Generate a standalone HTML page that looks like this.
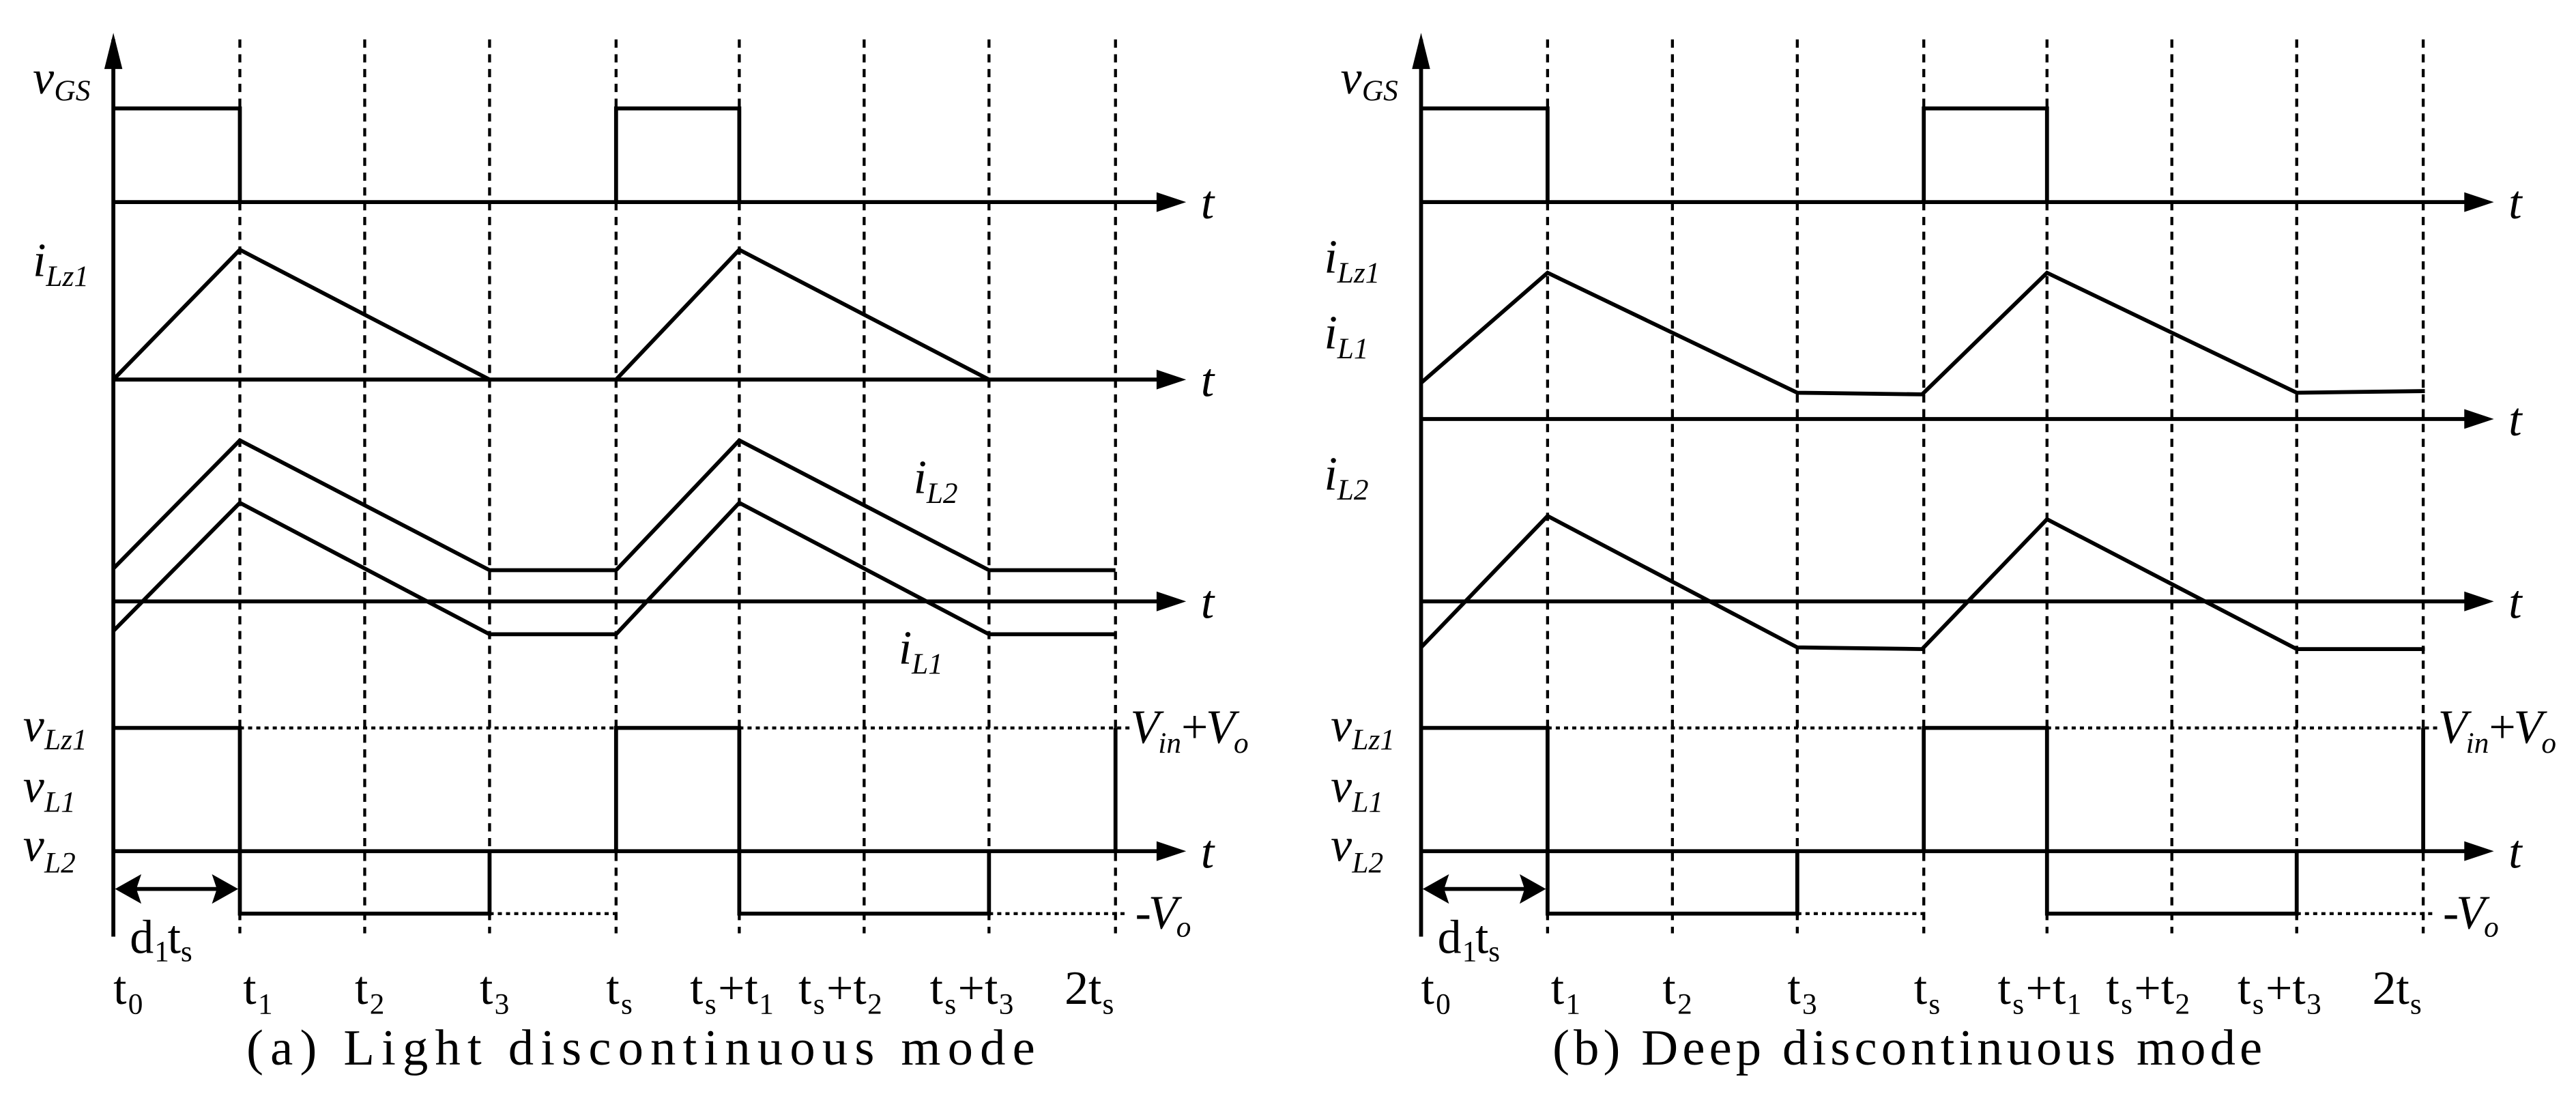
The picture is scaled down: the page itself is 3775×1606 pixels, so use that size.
<!DOCTYPE html>
<html><head><meta charset="utf-8"><style>
html,body{margin:0;padding:0;background:#fff;}
svg{display:block;}
.s{stroke:#000;stroke-width:2.4;fill:none;}
.d{stroke:#000;stroke-width:1.8;fill:none;stroke-dasharray:5,4;}
.p{stroke:#000;stroke-width:1.8;fill:none;stroke-dasharray:2.5,2.5;}
text{font-family:"Liberation Serif","Times New Roman",serif;fill:#000;}
.i{font-style:italic;font-size:29px;}
.sb{font-style:italic;font-size:18px;}
.t{font-size:29px;}
.ts{font-size:18px;}
.cap{font-family:"Liberation Serif",serif;font-size:31px;}
</style></head><body>
<svg width="3775" height="1606" viewBox="0 0 1568 667" preserveAspectRatio="none" xmlns="http://www.w3.org/2000/svg">
<defs>
<g id="common">
<line class="s" x1="69" y1="570" x2="69" y2="24"/>
<path d="M69,20L63.5,42L74.5,42z"/>
<g class="d">
<line x1="146" y1="24" x2="146" y2="568"/><line x1="222" y1="24" x2="222" y2="568"/>
<line x1="298" y1="24" x2="298" y2="568"/><line x1="375" y1="24" x2="375" y2="568"/>
<line x1="450" y1="24" x2="450" y2="568"/><line x1="526" y1="24" x2="526" y2="568"/>
<line x1="602" y1="24" x2="602" y2="568"/><line x1="679" y1="24" x2="679" y2="568"/>
</g>
<polyline class="s" points="69,66 146,66 146,123"/>
<polyline class="s" points="375,123 375,66 450,66 450,123"/>
<line class="s" x1="69" y1="123" x2="708" y2="123"/><path d="M722,123L704,117L704,129z"/>
<line class="s" x1="69" y1="518" x2="708" y2="518"/><path d="M722,518L704,512L704,524z"/>
<polyline class="s" points="69,443 146,443 146,556 298,556 298,518"/>
<polyline class="s" points="375,518 375,443 450,443 450,556 602,556 602,518"/>
<line class="s" x1="679" y1="443" x2="679" y2="518"/>
<line class="p" x1="146" y1="443" x2="375" y2="443"/>
<line class="p" x1="450" y1="443" x2="688" y2="443"/>
<line class="p" x1="298" y1="556" x2="375" y2="556"/>
<line class="p" x1="602" y1="556" x2="685" y2="556"/>
<line class="s" x1="80" y1="541" x2="135" y2="541"/>
<path d="M70,541L86,532L83,541L86,550z"/><path d="M145,541L129,532L132,541L129,550z"/>
<text class="i" x="731" y="133">t</text>
<text class="i" x="731" y="528">t</text>
<text class="i" x="20" y="57">v</text><text class="sb" x="33" y="61">GS</text>
<text class="i" x="14" y="451">v</text><text class="sb" x="27" y="456">Lz1</text>
<text class="i" x="14" y="488">v</text><text class="sb" x="27" y="494">L1</text>
<text class="i" x="14" y="524">v</text><text class="sb" x="27" y="531">L2</text>
<text class="i" x="688" y="452">V</text><text class="sb" x="705" y="458">in</text><text class="t" x="719" y="452">+</text><text class="i" x="734" y="452">V</text><text class="sb" x="751" y="458">o</text>
<text class="t" x="691" y="565">-</text><text class="i" x="699" y="565">V</text><text class="sb" x="716" y="570">o</text>
<text class="t" x="79" y="580">d</text><text class="ts" x="94" y="585">1</text><text class="t" x="102" y="580">t</text><text class="ts" x="110" y="585">s</text>
<text class="t" x="69" y="611">t</text><text class="ts" x="78" y="617">0</text>
<text class="t" x="148" y="611">t</text><text class="ts" x="157" y="617">1</text>
<text class="t" x="216" y="611">t</text><text class="ts" x="225" y="617">2</text>
<text class="t" x="292" y="611">t</text><text class="ts" x="301" y="617">3</text>
<text class="t" x="369" y="611">t</text><text class="ts" x="378" y="617">s</text>
<text class="t" x="420" y="611">t</text><text class="ts" x="429" y="617">s</text><text class="t" x="437" y="611">+t</text><text class="ts" x="462" y="617">1</text>
<text class="t" x="486" y="611">t</text><text class="ts" x="495" y="617">s</text><text class="t" x="503" y="611">+t</text><text class="ts" x="528" y="617">2</text>
<text class="t" x="566" y="611">t</text><text class="ts" x="575" y="617">s</text><text class="t" x="583" y="611">+t</text><text class="ts" x="608" y="617">3</text>
<text class="t" x="648" y="611">2t</text><text class="ts" x="671" y="617">s</text>
</g>
</defs>

<use href="#common"/>
<line class="s" x1="69" y1="231" x2="708" y2="231"/><path d="M722,231L704,225L704,237z"/>
<text class="i" x="731" y="241">t</text>
<line class="s" x1="69" y1="366" x2="708" y2="366"/><path d="M722,366L704,360L704,372z"/>
<text class="i" x="731" y="376">t</text>
<polyline class="s" points="69,231 146,152 298,231"/>
<polyline class="s" points="375,231 450,152 602,231"/>
<polyline class="s" points="69,346 146,268 298,347 375,347 450,268 602,347 679,347"/>
<polyline class="s" points="69,384 146,306 298,386 375,386 450,306 602,386 679,386"/>
<text class="i" x="20" y="168">i</text><text class="sb" x="28" y="174">Lz1</text>
<text class="i" x="556" y="300">i</text><text class="sb" x="564" y="306">L2</text>
<text class="i" x="547" y="404">i</text><text class="sb" x="555" y="410">L1</text>
<text class="cap" x="150" y="648" textLength="480" lengthAdjust="spacing">(a) Light discontinuous mode</text>

<g transform="translate(796,0)"><use href="#common"/></g>
<line class="s" x1="865" y1="255" x2="1504" y2="255"/><path d="M1518,255L1500,249L1500,261z"/>
<text class="i" x="1527" y="265">t</text>
<line class="s" x1="865" y1="366" x2="1504" y2="366"/><path d="M1518,366L1500,360L1500,372z"/>
<text class="i" x="1527" y="376">t</text>
<polyline class="s" points="865,233 942,166 1094,239 1170,240 1246,166 1398,239 1476,238"/>
<polyline class="s" points="865,394 942,314 1094,394 1170,395 1246,316 1398,395 1476,395"/>
<text class="i" x="806" y="166">i</text><text class="sb" x="814" y="172">Lz1</text>
<text class="i" x="806" y="212">i</text><text class="sb" x="814" y="218">L1</text>
<text class="i" x="806" y="298">i</text><text class="sb" x="814" y="304">L2</text>
<text class="cap" x="945" y="648" textLength="432" lengthAdjust="spacing">(b) Deep discontinuous mode</text>
</svg>
</body></html>
